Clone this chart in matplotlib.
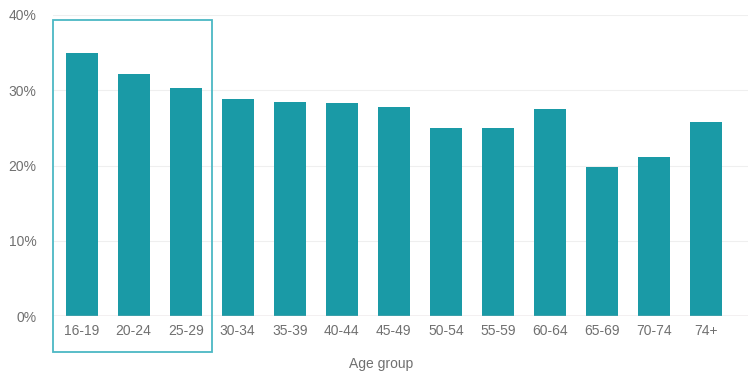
import matplotlib.pyplot as plt
from matplotlib.patches import Rectangle

# 연령대별 비율 (%)
age_groups = ['16-19', '20-24', '25-29', '30-34', '35-39', '40-44', '45-49',
              '50-54', '55-59', '60-64', '65-69', '70-74', '74+']
shares = [35.0, 32.1, 30.3, 28.9, 28.4, 28.3, 27.8, 25.0, 25.0, 27.5, 19.8, 21.1, 25.8]
y_ticks = [0, 10, 20, 30, 40]

bar_color = '#1a9aa6'
box_color = '#4bb8c4'
text_color = '#707070'

plt.rcParams['font.family'] = ['Liberation Sans', 'DejaVu Sans']

fig = plt.figure(figsize=(7.48, 3.75), dpi=100)
ax = fig.add_axes([0.0709, 0.1573, 0.9291, 0.8027])

x = range(len(age_groups))
ax.bar(x, shares, width=0.62, color=bar_color, zorder=2)

ax.set_xlim(-0.55, 12.81)
ax.set_ylim(0, 40)
ax.set_yticks(y_ticks)
ax.set_yticklabels([f'{t}%' for t in y_ticks])
ax.set_xticks(list(x))
ax.set_xticklabels(age_groups)

# 격자와 축
ax.grid(axis='y', color='#efefef', linewidth=0.8, zorder=0)
ax.axhline(0, color='#c9b9bd', linewidth=1.0, zorder=3)
for s in ax.spines.values():
    s.set_visible(False)
ax.tick_params(length=0, colors=text_color, labelsize=10)
ax.tick_params(axis='y', pad=12)
ax.tick_params(axis='x', pad=6)

ax.set_xlabel('Age group', color=text_color, fontsize=10)
ax.xaxis.set_label_coords(0.472, -0.135)

# 처음 세 연령대를 강조하는 상자
ax.add_patch(Rectangle((-0.55, -4.8), 3.06, 44.2, fill=False,
                       edgecolor=box_color, linewidth=1.3, clip_on=False, zorder=4))

fig.savefig('out.png', dpi=100)
